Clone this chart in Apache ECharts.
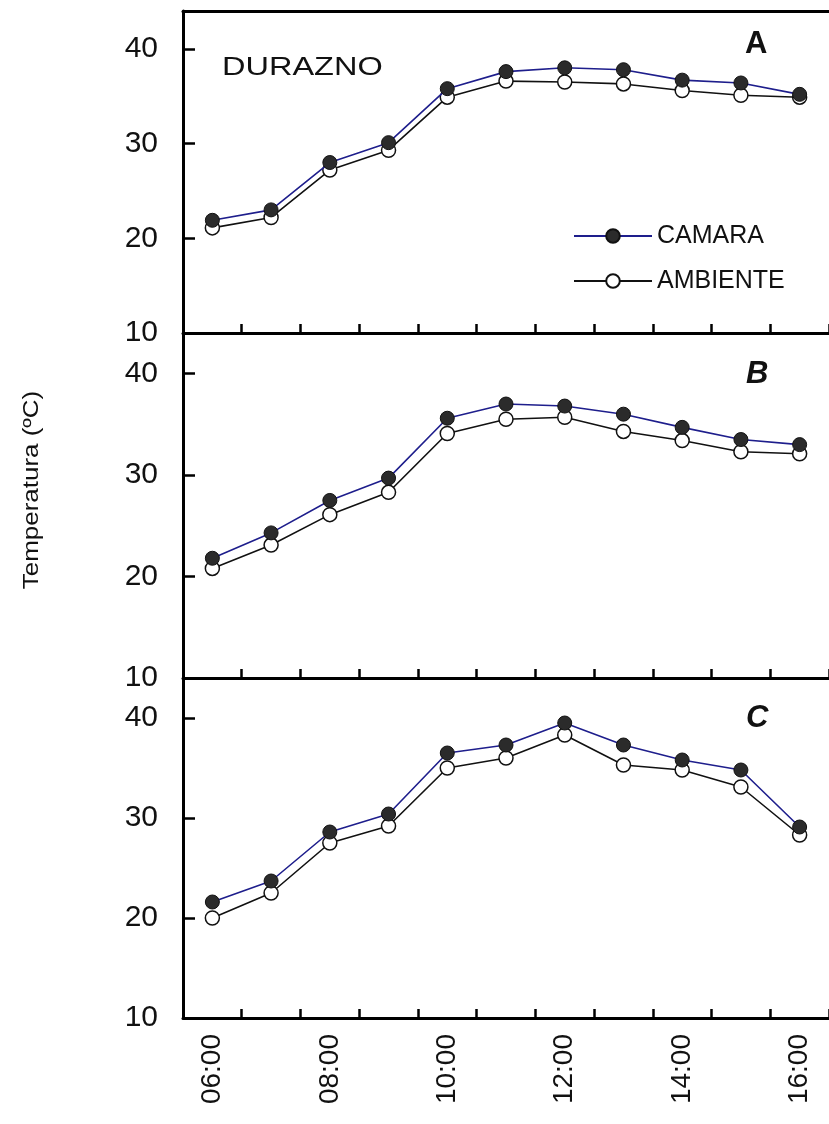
<!DOCTYPE html>
<html>
<head>
<meta charset="utf-8">
<script src="https://cdn.jsdelivr.net/npm/echarts@6/dist/echarts.min.js"></script>
<style>
html,body{margin:0;padding:0;background:#fff;}
#chart{width:829px;height:1124px;}
</style>
</head>
<body>
<div id="chart"></div>
<script>
// ---- data ----
const hours = ['06:00','07:00','08:00','09:00','10:00','11:00','12:00','13:00','14:00','15:00','16:00'];
const camaraA   = [21.9, 23.0, 28.0, 30.1, 35.8, 37.6, 38.0, 37.8, 36.7, 36.4, 35.2];
const ambienteA = [21.1, 22.2, 27.2, 29.3, 34.9, 36.6, 36.5, 36.3, 35.6, 35.1, 34.9];
const camaraB   = [21.8, 24.3, 27.5, 29.7, 35.6, 37.0, 36.8, 36.0, 34.7, 33.5, 33.0];
const ambienteB = [20.8, 23.1, 26.1, 28.3, 34.1, 35.5, 35.7, 34.3, 33.4, 32.3, 32.1];
const camaraC   = [21.6, 23.7, 28.6, 30.4, 36.5, 37.3, 39.5, 37.3, 35.8, 34.8, 29.1];
const ambienteC = [20.0, 22.5, 27.5, 29.2, 35.0, 36.0, 38.3, 35.3, 34.8, 33.1, 28.3];
const yTicks = [10, 20, 30, 40];
const panelLabels = ['A', 'B', 'C'];
const seriesNames = ['CAMARA', 'AMBIENTE'];
const panelTitle = 'DURAZNO';
const yName = 'Temperatura (ºC)';

// ---- chart ----
const FONT = 'Liberation Sans, Arial, sans-serif';
const chart = echarts.init(document.getElementById('chart'), null, {renderer: 'canvas'});

const grids = [
  {left: 183, right: -9, top: 11, height: 322},
  {left: 183, right: -9, top: 333, height: 345},
  {left: 183, right: -9, top: 678, height: 340}
];

function xAxisFor(i) {
  return {
    type: 'category', gridIndex: i, data: hours, boundaryGap: true,
    axisLine: {show: true, lineStyle: {color: '#000', width: 3}},
    axisTick: {show: true, inside: true, length: 9, interval: 0, lineStyle: {color: '#000', width: 2.5}},
    axisLabel: {show: i === 2, interval: 1, rotate: 90, margin: 16, fontSize: 28, color: '#111', fontFamily: FONT},
    splitLine: {show: false}
  };
}
function yAxisFor(i) {
  return {
    type: 'value', gridIndex: i, min: 10, max: 44, interval: 10,
    axisLine: {show: true, lineStyle: {color: '#000', width: 3}},
    axisTick: {show: true, inside: true, length: 12, lineStyle: {color: '#000', width: 2.5}},
    axisLabel: {margin: 25, fontSize: 30, color: '#111', fontFamily: FONT,
      formatter: v => (yTicks.indexOf(v) >= 0 ? String(v) : '')},
    splitLine: {show: false}
  };
}

const xAxes = [xAxisFor(0), xAxisFor(1), xAxisFor(2),
  {type: 'category', gridIndex: 0, position: 'top', data: hours,
   axisLine: {show: true, lineStyle: {color: '#000', width: 3}},
   axisTick: {show: false}, axisLabel: {show: false}}];
const yAxes = [yAxisFor(0), yAxisFor(1), yAxisFor(2)];

const camStyle = {
  type: 'line', symbol: 'circle', symbolSize: 14,
  lineStyle: {color: '#1e1e8c', width: 1.6},
  itemStyle: {color: '#2b2b2b', borderColor: '#111', borderWidth: 1},
  z: 3
};
const ambStyle = {
  type: 'line', symbol: 'circle', symbolSize: 14,
  lineStyle: {color: '#111', width: 1.6},
  itemStyle: {color: '#fff', borderColor: '#111', borderWidth: 1.5},
  z: 2
};
const sets = [[camaraA, ambienteA], [camaraB, ambienteB], [camaraC, ambienteC]];
const series = [];
sets.forEach((pair, i) => {
  series.push(Object.assign({}, camStyle, {name: seriesNames[0], xAxisIndex: i, yAxisIndex: i, data: pair[0]}));
  series.push(Object.assign({}, ambStyle, {name: seriesNames[1], xAxisIndex: i, yAxisIndex: i, data: pair[1]}));
});

const labelPos = [[745, 44], [746, 374], [746, 718]];
const graphic = [
  {type: 'text', x: 32, y: 490, rotation: Math.PI / 2, scaleX: 1.18,
   style: {text: yName, font: '22px ' + FONT, fill: '#111', align: 'center', verticalAlign: 'middle'}},
  {type: 'text', x: 222, y: 68, scaleX: 1.25,
   style: {text: panelTitle, font: '26px ' + FONT, fill: '#111', align: 'left', verticalAlign: 'middle'}}
];
panelLabels.forEach((t, i) => {
  graphic.push({type: 'text', x: labelPos[i][0], y: labelPos[i][1],
    style: {text: t, font: (i === 0 ? 'bold ' : 'italic bold ') + '31px ' + FONT, fill: '#111', align: 'left', verticalAlign: 'middle'}});
});

chart.setOption({
  backgroundColor: '#fff',
  animation: false,
  grid: grids,
  xAxis: xAxes,
  yAxis: yAxes,
  legend: {
    data: seriesNames, orient: 'vertical', left: 573, top: 223, padding: 0,
    itemWidth: 78, itemHeight: 17, itemGap: 19,
    textStyle: {fontSize: 25, color: '#111', fontFamily: FONT, lineHeight: 26},
    selectedMode: false
  },
  graphic: graphic,
  series: series
});
</script>
</body>
</html>
